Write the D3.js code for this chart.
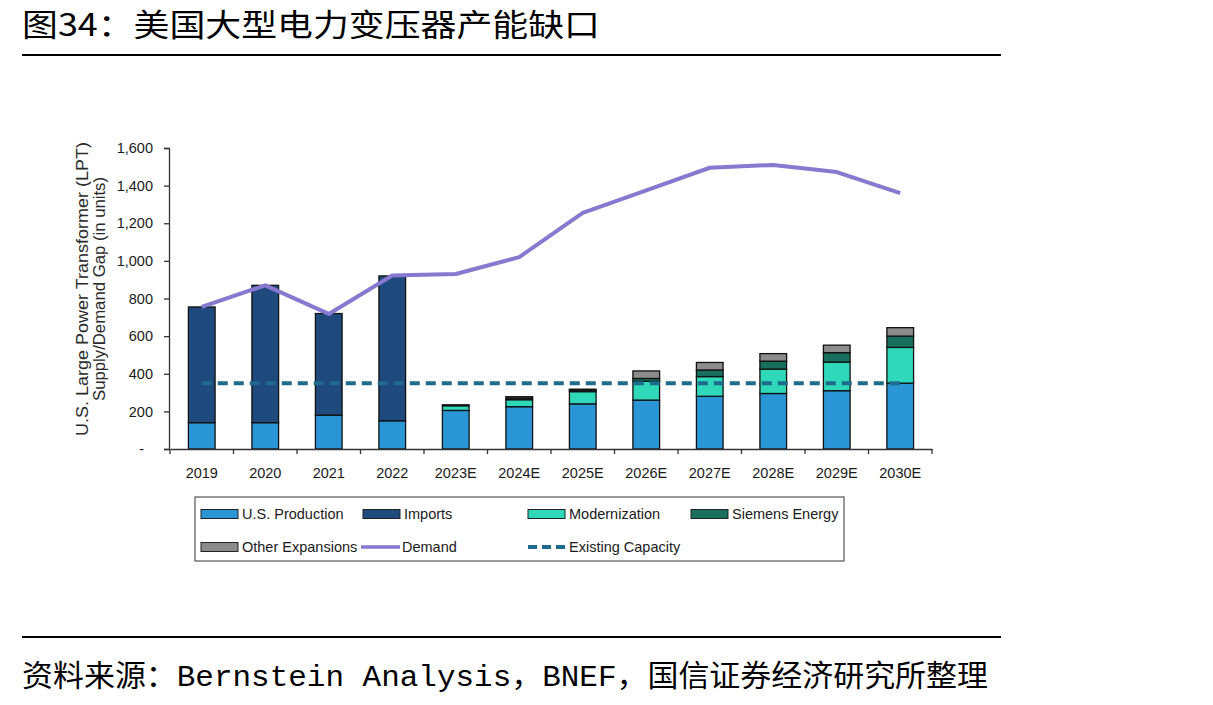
<!DOCTYPE html>
<html>
<head>
<meta charset="utf-8">
<script src="https://cdn.jsdelivr.net/npm/d3@7"></script>
<style>
  body { margin: 0; background: #fff; }
  svg { display: block; }
</style>
</head>
<body>
<svg id="chart" width="1213" height="705"></svg>
<script>
const years = ['2019', '2020', '2021', '2022', '2023E', '2024E', '2025E', '2026E', '2027E', '2028E', '2029E', '2030E']
const usProduction = [140, 140, 180, 150, 205, 225, 240, 260, 280, 295, 310, 350]
const imports = [615, 730, 540, 770, 0, 0, 0, 0, 0, 0, 0, 0]
const modernization = [0, 0, 0, 0, 25, 37, 65, 100, 105, 130, 152, 190]
const siemensEnergy = [0, 0, 0, 0, 0, 8, 8, 15, 35, 42, 50, 60]
const otherExpansions = [0, 0, 0, 0, 5, 8, 5, 40, 40, 40, 40, 45]
const demand = [755, 870, 718, 922, 930, 1020, 1255, 1375, 1495, 1510, 1472, 1360]
const existingCapacity = [350, 350, 350, 350, 350, 350, 350, 350, 350, 350, 350, 350]
const yTicks = [0, 200, 400, 600, 800, 1000, 1200, 1400, 1600]

const seriesKeys = ['usProduction', 'imports', 'modernization', 'siemens', 'other']
const seriesNames = {
  usProduction: 'U.S. Production',
  imports: 'Imports',
  modernization: 'Modernization',
  siemens: 'Siemens Energy',
  other: 'Other Expansions'
}
const colors = {
  usProduction: '#2b96d6',
  imports: '#1f4a7d',
  modernization: '#2fd8b8',
  siemens: '#17705e',
  other: '#8c8c8c',
  demand: '#8679cf',
  capacity: '#1e6b8e'
}

const rows = years.map((year, i) => ({
  year,
  usProduction: usProduction[i],
  imports: imports[i],
  modernization: modernization[i],
  siemens: siemensEnergy[i],
  other: otherExpansions[i],
  demand: demand[i],
  capacity: existingCapacity[i]
}))

const svg = d3.select('#chart')
const chartFont = "'Liberation Sans Narrow', 'Liberation Sans', Arial, sans-serif"

// ------------------
// Title & source
// ------------------
svg.append('text')
  .attr('x', 22)
  .attr('y', 36)
  .attr('font-family', "'Noto Sans CJK SC', sans-serif")
  .attr('font-size', 31)
  .attr('textLength', 578)
  .attr('lengthAdjust', 'spacingAndGlyphs')
  .text('图34：美国大型电力变压器产能缺口')

svg.append('line')
  .attr('x1', 22).attr('x2', 1001)
  .attr('y1', 55).attr('y2', 55)
  .attr('stroke', '#000').attr('stroke-width', 2)

svg.append('line')
  .attr('x1', 22).attr('x2', 1001)
  .attr('y1', 637).attr('y2', 637)
  .attr('stroke', '#000').attr('stroke-width', 2)

svg.append('text')
  .attr('x', 22)
  .attr('y', 686)
  .attr('font-family', "'Liberation Mono', 'Noto Sans CJK SC', monospace")
  .attr('font-size', 30)
  .attr('textLength', 966)
  .attr('lengthAdjust', 'spacingAndGlyphs')
  .text('资料来源：Bernstein Analysis，BNEF，国信证券经济研究所整理')

// ------------------
// Scales
// ------------------
const plot = { left: 170, right: 932, top: 148, bottom: 449 }

const x = d3.scaleBand()
  .domain(years)
  .range([plot.left, plot.right])
  .padding(0)

const barWidth = x.bandwidth() * 0.42

const y = d3.scaleLinear()
  .domain([0, 1600])
  .range([plot.bottom, plot.top])

const g = svg.append('g')

// ------------------
// Stacked bars
// ------------------
const stacked = d3.stack().keys(seriesKeys)(rows)

g.selectAll('.layer')
  .data(stacked)
  .enter()
  .append('g')
  .attr('class', 'layer')
  .attr('fill', d => colors[d.key])
  .selectAll('rect')
  .data(d => d.filter(s => s[1] - s[0] > 0))
  .enter()
  .append('rect')
  .attr('x', d => x(d.data.year) + (x.bandwidth() - barWidth) / 2)
  .attr('y', d => y(d[1]))
  .attr('width', barWidth)
  .attr('height', d => y(d[0]) - y(d[1]))
  .attr('stroke', '#111')
  .attr('stroke-width', 1.3)

// ------------------
// Axes
// ------------------
const yAxis = g.append('g')
  .attr('transform', `translate(${plot.left - 1},0)`)
  .call(d3.axisLeft(y)
    .tickValues(yTicks)
    .tickSize(5)
    .tickPadding(11)
    .tickFormat(d => d === 0 ? '-' : d3.format(',')(d)))

yAxis.select('.domain').attr('stroke', '#333').attr('stroke-width', 1.3)
yAxis.selectAll('.tick line').attr('stroke', '#333').attr('stroke-width', 1.3)
yAxis.selectAll('.tick text')
  .attr('font-family', chartFont)
  .attr('font-size', 14.5)
  .attr('fill', '#1a1a1a')
  .attr('dx', d => d === 0 ? -9 : 0)

const xAxis = g.append('g')
  .attr('transform', `translate(0,${plot.bottom})`)
  .call(d3.axisBottom(x).tickSize(0).tickPadding(19))

xAxis.select('.domain').attr('stroke', '#333').attr('stroke-width', 1.5)
xAxis.selectAll('.tick text')
  .attr('font-family', chartFont)
  .attr('font-size', 14.5)
  .attr('fill', '#1a1a1a')

// tick marks between categories
xAxis.selectAll('.sep')
  .data(years.concat(['end']))
  .enter()
  .append('line')
  .attr('x1', (d, i) => i < years.length ? x(d) : plot.right)
  .attr('x2', (d, i) => i < years.length ? x(d) : plot.right)
  .attr('y1', 0)
  .attr('y2', 5)
  .attr('stroke', '#333')
  .attr('stroke-width', 1.3)

// Axis title
const yTitle = svg.append('g')
  .attr('transform', 'translate(91,289) rotate(-90)')
  .attr('font-family', chartFont)
  .attr('font-size', 16)
  .attr('fill', '#2a2a2a')
  .attr('text-anchor', 'middle')

yTitle.append('text')
  .attr('x', 0)
  .attr('y', -3)
  .attr('textLength', 294)
  .attr('lengthAdjust', 'spacingAndGlyphs')
  .text('U.S. Large Power Transformer (LPT)')

yTitle.append('text')
  .attr('x', 0)
  .attr('y', 14)
  .attr('textLength', 224)
  .attr('lengthAdjust', 'spacingAndGlyphs')
  .text('Supply/Demand Gap (in units)')

// ------------------
// Lines
// ------------------
const cx = d => x(d.year) + x.bandwidth() / 2

g.append('path')
  .datum(rows)
  .attr('fill', 'none')
  .attr('stroke', colors.capacity)
  .attr('stroke-width', 4)
  .attr('stroke-dasharray', '10,6')
  .attr('d', d3.line().x(cx).y(d => y(d.capacity)))

g.append('path')
  .datum(rows)
  .attr('fill', 'none')
  .attr('stroke', colors.demand)
  .attr('stroke-width', 4)
  .attr('stroke-linejoin', 'round')
  .attr('d', d3.line().x(cx).y(d => y(d.demand)))

// ------------------
// Legend
// ------------------
const legend = svg.append('g')
  .attr('font-family', chartFont)
  .attr('font-size', 14.5)
  .attr('fill', '#1a1a1a')

legend.append('rect')
  .attr('x', 195).attr('y', 497)
  .attr('width', 649).attr('height', 64)
  .attr('fill', 'none')
  .attr('stroke', '#555')
  .attr('stroke-width', 1.2)

const legendItems = [
  { key: 'usProduction', type: 'rect', x: 201, y: 514 },
  { key: 'imports', type: 'rect', x: 363, y: 514 },
  { key: 'modernization', type: 'rect', x: 528, y: 514 },
  { key: 'siemens', type: 'rect', x: 691, y: 514 },
  { key: 'other', type: 'rect', x: 201, y: 547 },
  { key: 'demand', type: 'line', x: 361, y: 547, label: 'Demand' },
  { key: 'capacity', type: 'dash', x: 528, y: 547, label: 'Existing Capacity' }
]

legendItems.forEach(item => {
  if (item.type === 'rect') {
    legend.append('rect')
      .attr('x', item.x).attr('y', item.y - 4.5)
      .attr('width', 37).attr('height', 9)
      .attr('fill', colors[item.key])
      .attr('stroke', '#222')
      .attr('stroke-width', 1)
  } else {
    legend.append('line')
      .attr('x1', item.x).attr('x2', item.x + 39)
      .attr('y1', item.y).attr('y2', item.y)
      .attr('stroke', colors[item.key])
      .attr('stroke-width', item.type === 'dash' ? 4 : 3.5)
      .attr('stroke-dasharray', item.type === 'dash' ? '9,5' : null)
  }
  legend.append('text')
    .attr('x', item.x + 41)
    .attr('y', item.y + 5)
    .text(item.label || seriesNames[item.key])
})
</script>
</body>
</html>
